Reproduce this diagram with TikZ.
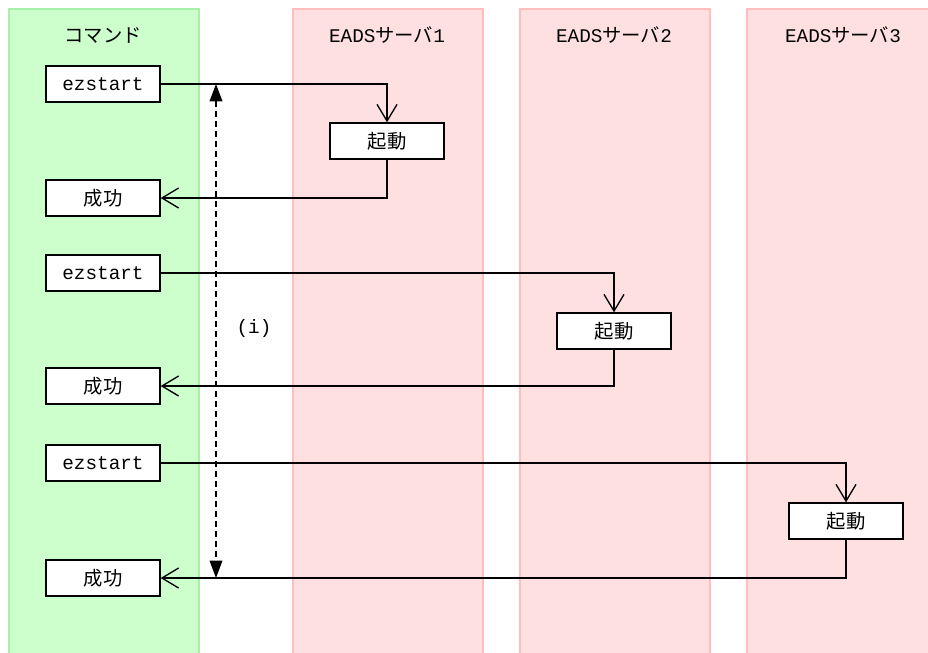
\documentclass[tikz,border=0pt]{standalone}
\usepackage{fontspec}
\setmainfont{Liberation Mono}
\newfontfamily\jp{Noto Sans CJK JP}
\usetikzlibrary{arrows.meta}
\definecolor{greenfill}{HTML}{CCFFCC}
\definecolor{greenline}{HTML}{A8F0A8}
\definecolor{pinkfill}{HTML}{FFE0E0}
\definecolor{pinkline}{HTML}{FFBDBD}
\tikzset{
  lane/.style={draw, line width=1.2pt, anchor=north west, inner sep=0pt},
  cmdlane/.style={lane, draw=greenline, fill=greenfill, minimum width=142.5pt, minimum height=500pt},
  srvlane/.style={lane, draw=pinkline, fill=pinkfill, minimum width=142.5pt, minimum height=500pt},
  head/.style={font=\fontsize{14.5}{17}\selectfont, inner sep=0pt},
  box/.style={draw, line width=1pt, fill=white, minimum width=85.5pt, minimum height=27pt, inner sep=0pt, font=\fontsize{14.5}{17}\selectfont},
  flow/.style={line width=1pt, -{Straight Barb[length=12.5pt,width=15pt,line width=1pt]}},
  span/.style={line width=1pt, dashed, dash pattern=on 4.5pt off 3pt, {Triangle[length=13pt,width=9.5pt]}-{Triangle[length=13pt,width=9.5pt]}}
}
\begin{document}
\begin{tikzpicture}[x=0.75pt, y=-0.75pt]
\clip (0,0) rectangle (928,653);
\fill[white] (0,0) rectangle (928,653);
\node[cmdlane] (l0) at (8,8) {};
\node[srvlane] (l1) at (292,8) {};
\node[srvlane] (l2) at (519,8) {};
\node[srvlane] (l3) at (746,8) {};
\node[head] (h0) at (103,35) {\jp コマンド};
\node[head] (h1) at (387,35) {EADS{\jp サーバ}1};
\node[head] (h2) at (614,35) {EADS{\jp サーバ}2};
\node[head] (h3) at (843,35) {EADS{\jp サーバ}3};
% commands
\node[box] (ez1) at (103,84) {ezstart};
\node[box] (ok1) at (103,198) {\jp 成功};
\node[box] (ez2) at (103,273) {ezstart};
\node[box] (ok2) at (103,386) {\jp 成功};
\node[box] (ez3) at (103,463) {ezstart};
\node[box] (ok3) at (103,578) {\jp 成功};
% servers
\node[box] (kd1) at (387,141) {\jp 起動};
\node[box] (kd2) at (614,331) {\jp 起動};
\node[box] (kd3) at (846,521) {\jp 起動};
% flows
\draw[flow] (ez1.east) -| (kd1.north);
\draw[flow] (kd1.south) |- (ok1.east);
\draw[flow] (ez2.east) -| (kd2.north);
\draw[flow] (kd2.south) |- (ok2.east);
\draw[flow] (ez3.east) -| (kd3.north);
\draw[flow] (kd3.south) |- (ok3.east);
% span
\coordinate (dtop) at (216,84);
\coordinate (dbot) at (216,578);
\draw[span] (dtop) -- (dbot);
\node[head] (lab) at (254,328) {(i)};
\end{tikzpicture}
\end{document}
